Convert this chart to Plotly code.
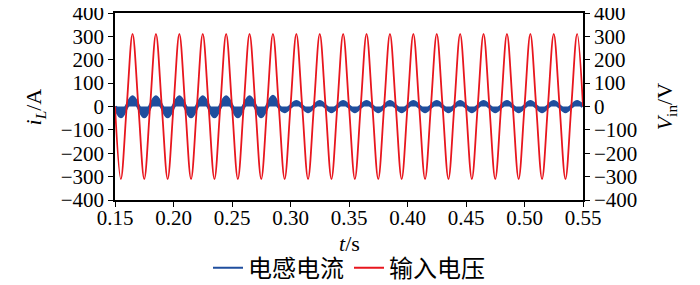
import plotly.graph_objects as go

# Half-cycle peak times (s) (50 Hz waveforms)
peak_times = [0.155, 0.165, 0.175, 0.185, 0.195, 0.205, 0.215, 0.225, 0.235, 0.245,
              0.255, 0.265, 0.275, 0.285, 0.295, 0.305, 0.315, 0.325, 0.335, 0.345,
              0.355, 0.365, 0.375, 0.385, 0.395, 0.405, 0.415, 0.425, 0.435, 0.445,
              0.455, 0.465, 0.475, 0.485, 0.495, 0.505, 0.515, 0.525, 0.535, 0.545]
# Input voltage peak values (V)
v_peaks = [-311, 311, -311, 311, -311, 311, -311, 311, -311, 311,
           -311, 311, -311, 311, -311, 311, -311, 311, -311, 311,
           -311, 311, -311, 311, -311, 311, -311, 311, -311, 311,
           -311, 311, -311, 311, -311, 311, -311, 311, -311, 311]
# Inductor current peak values (A)
i_peaks = [-42, 40, -42, 40, -42, 40, -42, 40, -42, 40,
           -42, 40, -42, 42, -20, 19, -20, 19, -20, 19,
           -20, 19, -20, 19, -20, 19, -20, 19, -20, 19,
           -20, 19, -20, 19, -20, 19, -20, 19, -20, 19]
# Zero crossings between peaks
start_time = 0.15
zero_value = 0

x_ticks = [0.15, 0.20, 0.25, 0.30, 0.35, 0.40, 0.45, 0.50, 0.55]
x_tick_text = ["0.15", "0.20", "0.25", "0.30", "0.35", "0.40", "0.45", "0.50", "0.55"]
y_ticks = [400, 300, 200, 100, 0, -100, -200, -300, -400]

# build sample table: zero, peak, zero, peak ...
t_pts = [start_time]
v_pts = [zero_value]
i_pts = [zero_value]
for tp, vp, ip in zip(peak_times, v_peaks, i_peaks):
    t_pts += [tp, round(tp + 0.005, 3)]
    v_pts += [vp, zero_value]
    i_pts += [ip, zero_value]

BLUE = "#1f4e9e"
RED = "#e8161e"
serif = "Times New Roman, Liberation Serif, DejaVu Serif, serif"
cjk = "Noto Sans CJK SC"

fig = go.Figure()
fig.add_trace(go.Scatter(
    x=t_pts, y=i_pts, mode="lines", name="电感电流", showlegend=False,
    line=dict(color=BLUE, width=4, shape="spline"),
    fill="tozeroy", fillcolor=BLUE, yaxis="y"))
fig.add_trace(go.Scatter(
    x=t_pts, y=v_pts, mode="lines", name="输入电压", showlegend=False,
    line=dict(color=RED, width=1.8, shape="spline"), yaxis="y2"))
# legend entries
fig.add_trace(go.Scatter(x=[None], y=[None], mode="lines", name="电感电流",
                         line=dict(color=BLUE, width=2)))
fig.add_trace(go.Scatter(x=[None], y=[None], mode="lines", name="输入电压",
                         line=dict(color=RED, width=2)))

axis_common = dict(showgrid=False, zeroline=False, showline=True, linecolor="black",
                   linewidth=1.5, ticks="outside", ticklen=5, tickwidth=1.3,
                   tickcolor="black", automargin=False, ticklabeloverflow="allow",
                   tickfont=dict(family=serif, size=21, color="black"))

title_font = dict(family=serif, size=22, color="black")

# page is offset by the default 8px body margin
fig.update_layout(
    width=700, height=285,
    margin=dict(l=107, r=125, t=5, b=93, autoexpand=False),
    paper_bgcolor="white", plot_bgcolor="white",
    showlegend=True,
    legend=dict(orientation="h", x=0.5, xanchor="center", y=-0.364, yanchor="middle",
                font=dict(family=cjk, size=24, color="black"),
                itemwidth=30, tracegroupgap=0, bgcolor="rgba(0,0,0,0)"),
    xaxis=dict(range=[0.15, 0.55], tickvals=x_ticks, ticktext=x_tick_text,
               mirror=True, ticklabelstandoff=-7, **axis_common),
    yaxis=dict(range=[-400, 400], tickvals=y_ticks, mirror=False, **axis_common),
    yaxis2=dict(range=[-400, 400], tickvals=y_ticks, overlaying="y", side="right",
                **axis_common),
    annotations=[
        dict(text="<i>t</i>/s", xref="paper", yref="paper", x=0.5, y=-0.235,
             xanchor="center", yanchor="middle", showarrow=False, font=title_font),
        dict(text="<i>i<sub>L</sub></i>/A", xref="paper", yref="paper", x=-0.171, y=0.5,
             xanchor="center", yanchor="middle", showarrow=False, textangle=-90, font=title_font),
        dict(text="<i>V</i><sub>in</sub>/V", xref="paper", yref="paper", x=1.177, y=0.5,
             xanchor="center", yanchor="middle", showarrow=False, textangle=-90, font=title_font),
    ],
)

fig.write_html("out.html")
